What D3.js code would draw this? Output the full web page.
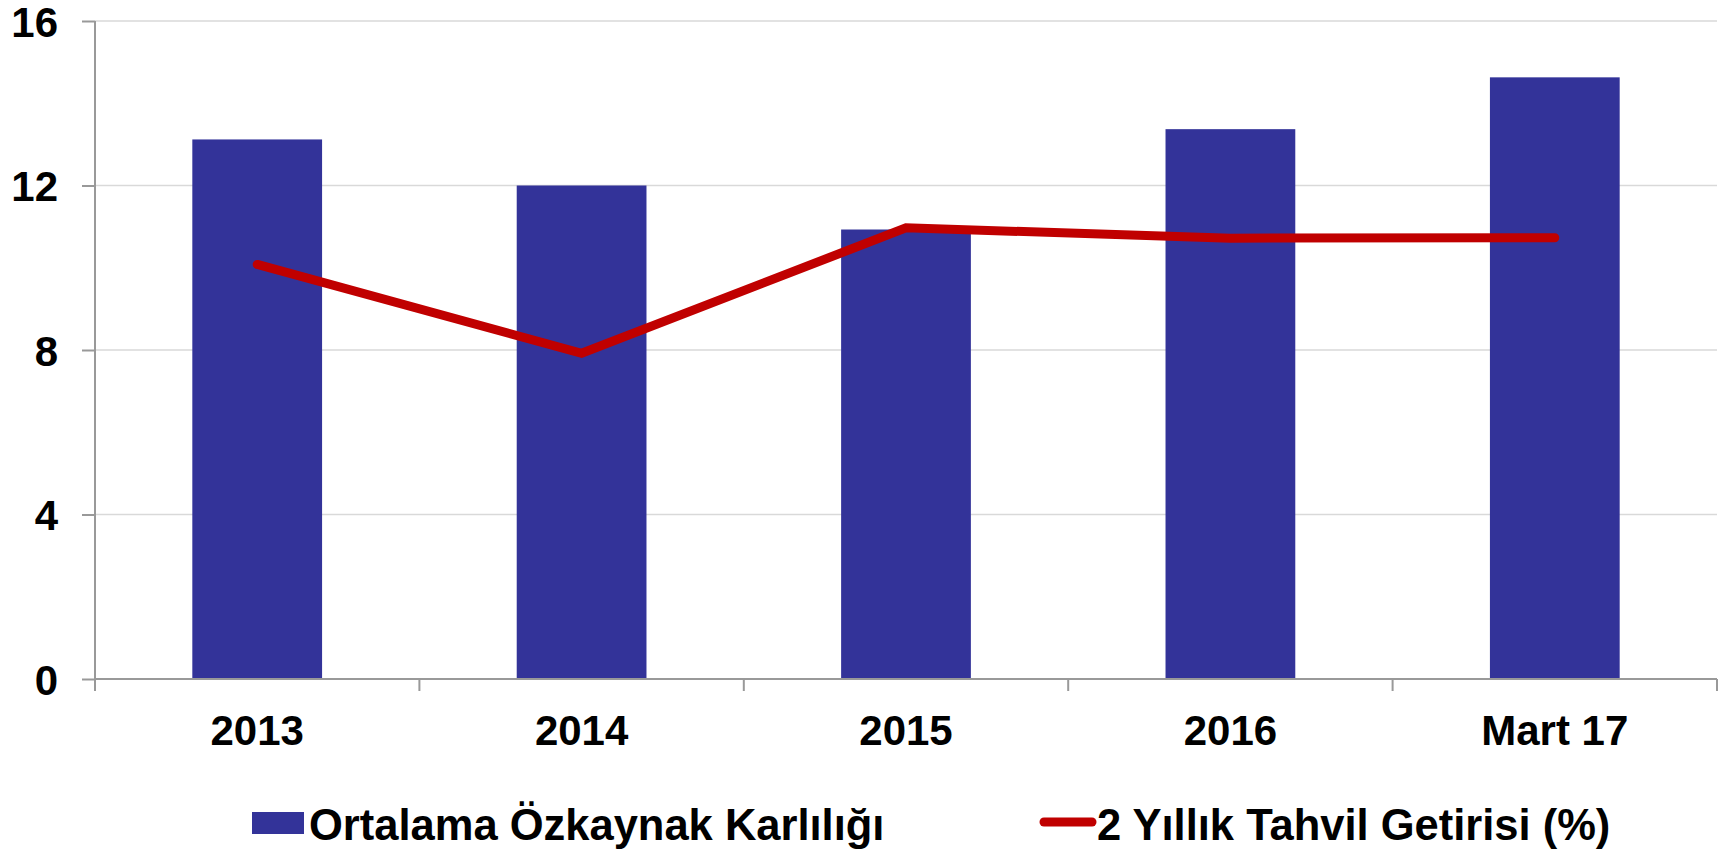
<!DOCTYPE html>
<html>
<head>
<meta charset="utf-8">
<script src="https://cdn.jsdelivr.net/npm/d3@7"></script>
<style>
  body { margin: 0; background: #fff; }
  svg { display: block; font-family: "Liberation Sans", Arial, sans-serif; font-weight: bold; }
</style>
</head>
<body>
<script>
// data
const categories = ["2013", "2014", "2015", "2016", "Mart 17"];
const roeValues = [13.12, 12.0, 10.93, 13.37, 14.63];      // Ortalama Özkaynak Karlılığı
const bondValues = [10.08, 7.92, 10.97, 10.72, 10.73];     // 2 Yıllık Tahvil Getirisi (%)
const yTicks = [0, 4, 8, 12, 16];
const legendLabels = ["Ortalama Özkaynak Karlılığı", "2 Yıllık Tahvil Getirisi (%)"];

const width = 1729;
const height = 849;
const barColor = "#333399";
const lineColor = "#c00000";

const margin = { top: 21, right: 12, bottom: 170, left: 95 };

const svg = d3.select("body").append("svg")
  .attr("width", width)
  .attr("height", height);

const x = d3.scaleBand()
  .domain(categories)
  .range([margin.left, width - margin.right])
  .paddingInner(0.6)
  .paddingOuter(0.3);

// band edges for the category ticks
const step = x.step();
const x0 = margin.left;

const y = d3.scaleLinear()
  .domain([0, 16])
  .range([height - margin.bottom, margin.top]);

// gridlines
svg.append("g")
  .selectAll("line")
  .data(yTicks.filter(d => d > 0))
  .enter().append("line")
    .attr("x1", margin.left)
    .attr("x2", width - margin.right)
    .attr("y1", d => y(d))
    .attr("y2", d => y(d))
    .attr("stroke", "#d9d9d9")
    .attr("stroke-width", 1.5);

// bars
svg.append("g")
  .selectAll("rect")
  .data(categories)
  .enter().append("rect")
    .attr("x", d => x(d))
    .attr("width", x.bandwidth())
    .attr("y", (d, i) => y(roeValues[i]))
    .attr("height", (d, i) => y(0) - y(roeValues[i]))
    .attr("fill", barColor);

// y axis
const yAxis = svg.append("g")
  .attr("transform", `translate(${margin.left},0)`)
  .call(d3.axisLeft(y).tickValues(yTicks).tickSize(13).tickPadding(24));
yAxis.select(".domain")
  .attr("d", `M-0,${y(16)}V${y(0) + 12}`);
yAxis.selectAll("line").attr("stroke", "#999").attr("stroke-width", 2);
yAxis.select(".domain").attr("stroke", "#999").attr("stroke-width", 2);
yAxis.selectAll("text")
  .attr("font-size", 42)
  .attr("font-weight", "bold")
  .attr("fill", "#000")
  .attr("font-family", "Liberation Sans, Arial, sans-serif")
  .attr("dy", "0.36em");

// x axis line and ticks at band edges
const xAxis = svg.append("g");
xAxis.append("line")
  .attr("x1", margin.left)
  .attr("x2", width - margin.right)
  .attr("y1", y(0))
  .attr("y2", y(0))
  .attr("stroke", "#999")
  .attr("stroke-width", 2);
xAxis.selectAll("line.tick")
  .data(d3.range(categories.length + 1))
  .enter().append("line")
    .attr("class", "tick")
    .attr("x1", i => x0 + i * step)
    .attr("x2", i => x0 + i * step)
    .attr("y1", y(0))
    .attr("y2", y(0) + 12)
    .attr("stroke", "#999")
    .attr("stroke-width", 2);
xAxis.selectAll("text")
  .data(categories)
  .enter().append("text")
    .attr("x", d => x(d) + x.bandwidth() / 2)
    .attr("y", 745)
    .attr("text-anchor", "middle")
    .attr("font-size", 42)
    .text(d => d);

// line
const line = d3.line()
  .x((d, i) => x(categories[i]) + x.bandwidth() / 2)
  .y(d => y(d));

svg.append("path")
  .datum(bondValues)
  .attr("d", line)
  .attr("fill", "none")
  .attr("stroke", lineColor)
  .attr("stroke-width", 9)
  .attr("stroke-linecap", "round");

// legend
const legend = svg.append("g");
legend.append("rect")
  .attr("x", 252)
  .attr("y", 812)
  .attr("width", 52)
  .attr("height", 22)
  .attr("fill", barColor);
legend.append("text")
  .attr("x", 309)
  .attr("y", 840)
  .attr("font-size", 43.5)
  .text(legendLabels[0]);

legend.append("line")
  .attr("x1", 1044)
  .attr("x2", 1092)
  .attr("y1", 822)
  .attr("y2", 822)
  .attr("stroke", lineColor)
  .attr("stroke-width", 9)
  .attr("stroke-linecap", "round");
legend.append("text")
  .attr("x", 1097)
  .attr("y", 840)
  .attr("font-size", 43.5)
  .text(legendLabels[1]);
</script>
</body>
</html>
